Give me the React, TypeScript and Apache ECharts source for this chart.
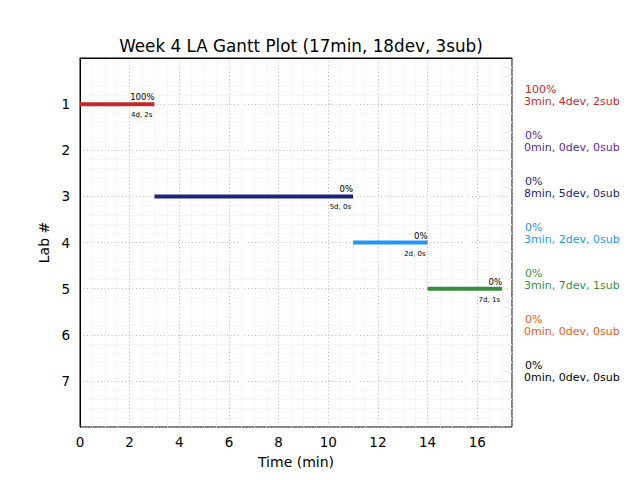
import React, { useEffect, useRef } from "react";
import * as echarts from "echarts";

const titleText = "Week 4 LA Gantt Plot (17min, 18dev, 3sub)";
const labs = [1, 2, 3, 4, 5, 6, 7];
const starts: (number | null)[] = [0, null, 3, 11, 14, null, null];
const ends: (number | null)[] = [3, null, 11, 14, 17, null, null];
const percents = ["100%", "0%", "0%", "0%", "0%", "0%", "0%"];
const barNotes = ["4d, 2s", "", "5d, 0s", "2d, 0s", "7d, 1s", "", ""];
const summaries = [
  "3min, 4dev, 2sub",
  "0min, 0dev, 0sub",
  "8min, 5dev, 0sub",
  "3min, 2dev, 0sub",
  "3min, 7dev, 1sub",
  "0min, 0dev, 0sub",
  "0min, 0dev, 0sub",
];
const colors = ["#c62828", "#5a1fa6", "#1a237e", "#2196f3", "#388e3c", "#ef5a12", "#000000"];
const xMax = 17.4;
const yTicks = [1, 2, 3, 4, 5, 6, 7];

const FONT = "DejaVu Sans";

export default function App() {
  const ref = useRef<HTMLDivElement>(null);
  useEffect(() => {
    if (!ref.current) return;
    const chart = echarts.init(ref.current, null, { renderer: "svg" });
    const barData = labs
      .map((lab, i) => ({ lab, i }))
      .filter((d) => starts[d.i] !== null && ends[d.i] !== null)
      .map((d) => [starts[d.i], ends[d.i], d.lab, d.i]);
    const sideData = labs.map((lab, i) => [xMax, lab, i]);
    chart.setOption({
      animation: false,
      textStyle: { fontFamily: FONT },
      title: {
        text: titleText,
        left: 296,
        textAlign: "center",
        top: 32,
        textStyle: { fontFamily: FONT, fontSize: 16.8, fontWeight: "normal", color: "#000" },
      },
      grid: {
        left: 80,
        right: 128,
        top: 58,
        bottom: 53,
        show: true,
        borderColor: "#000",
        borderWidth: 1,
        backgroundColor: "transparent",
      },
      xAxis: {
        type: "value",
        min: 0,
        max: xMax,
        interval: 2,
        name: "Time (min)",
        nameLocation: "middle",
        nameGap: 28,
        nameTextStyle: { fontFamily: FONT, fontSize: 14, color: "#000" },
        axisLine: { show: true, lineStyle: { color: "#000" } },
        axisTick: { show: false },
        axisLabel: {
          fontFamily: FONT,
          fontSize: 13.5,
          color: "#000",
          margin: 8,
          formatter: (v: number) => (v > 17 ? "" : String(v)),
        },
        splitLine: { show: true, lineStyle: { color: "#b8b8b8", type: [1, 2.5], width: 1 } },
        minorTick: { show: false, splitNumber: 4 },
        minorSplitLine: { show: true, lineStyle: { color: "#f6f6f6", width: 1 } },
      },
      yAxis: {
        type: "value",
        inverse: true,
        min: 0,
        max: 8,
        interval: 1,
        name: "Lab #",
        nameLocation: "middle",
        nameGap: 24,
        nameRotate: 90,
        nameTextStyle: { fontFamily: FONT, fontSize: 14, color: "#000" },
        axisLine: { show: true, lineStyle: { color: "#000" } },
        axisTick: { show: false },
        axisLabel: {
          fontFamily: FONT,
          fontSize: 13.5,
          color: "#000",
          margin: 10,
          formatter: (v: number) => (yTicks.indexOf(v) >= 0 ? String(v) : ""),
        },
        splitLine: { show: true, lineStyle: { color: "#b8b8b8", type: [1, 2.5], width: 1 } },
        minorTick: { show: false, splitNumber: 5 },
        minorSplitLine: { show: true, lineStyle: { color: "#f6f6f6", width: 1 } },
      },
      series: [
        {
          type: "custom",
          data: barData,
          encode: { x: [0, 1], y: 2 },
          clip: false,
          renderItem: (params: any, api: any) => {
            const s = api.value(0);
            const e = api.value(1);
            const lab = api.value(2);
            const idx = api.value(3);
            const p0 = api.coord([s, lab]);
            const p1 = api.coord([e, lab]);
            return {
              type: "group",
              children: [
                {
                  type: "line",
                  shape: { x1: p0[0], y1: p0[1], x2: p1[0], y2: p1[1] },
                  style: { stroke: colors[idx], lineWidth: 4 },
                },
                {
                  type: "text",
                  style: {
                    x: p1[0],
                    y: p1[1] - 7,
                    text: percents[idx],
                    fill: "#000",
                    font: `8.5px "${FONT}"`,
                    align: "right",
                    verticalAlign: "middle",
                  },
                },
                {
                  type: "text",
                  style: {
                    x: p1[0] - 2,
                    y: p1[1] + 11,
                    text: barNotes[idx],
                    fill: "#000",
                    font: `7px "${FONT}"`,
                    align: "right",
                    verticalAlign: "middle",
                  },
                },
              ],
            };
          },
        },
        {
          type: "custom",
          data: sideData,
          encode: { x: 0, y: 1 },
          clip: false,
          renderItem: (params: any, api: any) => {
            const lab = api.value(1);
            const idx = api.value(2);
            const p = api.coord([xMax, lab]);
            return {
              type: "group",
              children: [
                {
                  type: "text",
                  style: {
                    x: p[0] + 13,
                    y: p[1] - 15,
                    text: percents[idx],
                    fill: colors[idx],
                    font: `11px "${FONT}"`,
                    align: "left",
                    verticalAlign: "middle",
                  },
                },
                {
                  type: "text",
                  style: {
                    x: p[0] + 12,
                    y: p[1] - 3,
                    text: summaries[idx],
                    fill: colors[idx],
                    font: `11px "${FONT}"`,
                    align: "left",
                    verticalAlign: "middle",
                  },
                },
              ],
            };
          },
        },
      ],
    });
    return () => chart.dispose();
  }, []);
  return <div ref={ref} style={{ width: 640, height: 480, position: "absolute", left: 0, top: 0 }} />;
}
